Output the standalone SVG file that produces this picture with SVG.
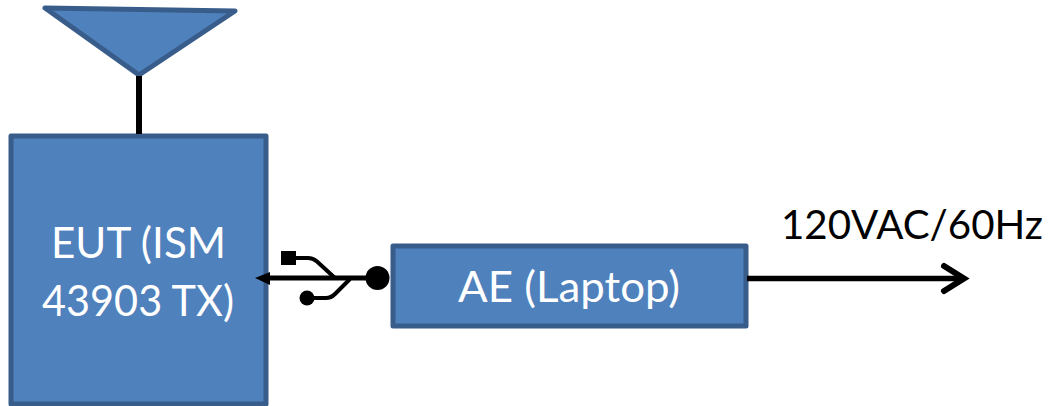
<svg xmlns="http://www.w3.org/2000/svg" width="1052" height="406" viewBox="0 0 1052 406">
<style>
.n{fill:#4f81bd;stroke:#385d8a;stroke-width:5;stroke-linejoin:round}
.t{font-family:Lato,"Open Sans",sans-serif;font-size:42px;text-anchor:middle}
.w{fill:#fff}
.c{fill:none;stroke:#000}
</style>
<rect width="1052" height="406" fill="#fff"/>
<g id="antenna"><path class="n" d="M45 8L235 11L139 75Z"/></g>
<g id="eut">
<rect class="n" x="11" y="136" width="255" height="268"/>
<text class="t w" x="138.500" y="258" textLength="175" lengthAdjust="spacingAndGlyphs">EUT (ISM</text>
<text class="t w" x="138" y="316" textLength="192" lengthAdjust="spacingAndGlyphs">43903 TX)</text>
</g>
<g id="ae">
<rect class="n" x="393" y="246" width="353" height="80"/>
<text class="t w" x="569" y="302" textLength="222" lengthAdjust="spacingAndGlyphs">AE (Laptop)</text>
</g>
<g id="power"><text class="t" x="912" y="239" style="font-size:41px" textLength="262" lengthAdjust="spacingAndGlyphs">120VAC/60Hz</text></g>
<g id="connectors">
<path class="c" stroke-width="6" d="M139 76V134"/>
<path class="c" stroke-width="5.500" d="M747 278.500H962"/>
<path class="c" stroke-width="6" stroke-linecap="round" d="M944 266L964 278.500L944 291"/>
</g>
<g id="usb">
<path d="M255 278L270 272V275.500H366V280.500H270V285Z"/>
<rect x="281" y="251" width="15" height="14"/>
<circle cx="377.500" cy="278" r="12"/>
<circle cx="307" cy="298" r="7.500"/>
<path class="c" stroke-width="4" d="M294 258H308Q313 258 317 261.500L335 278M307 298H326Q331 298 335 294L350 279"/>
</g>
</svg>
